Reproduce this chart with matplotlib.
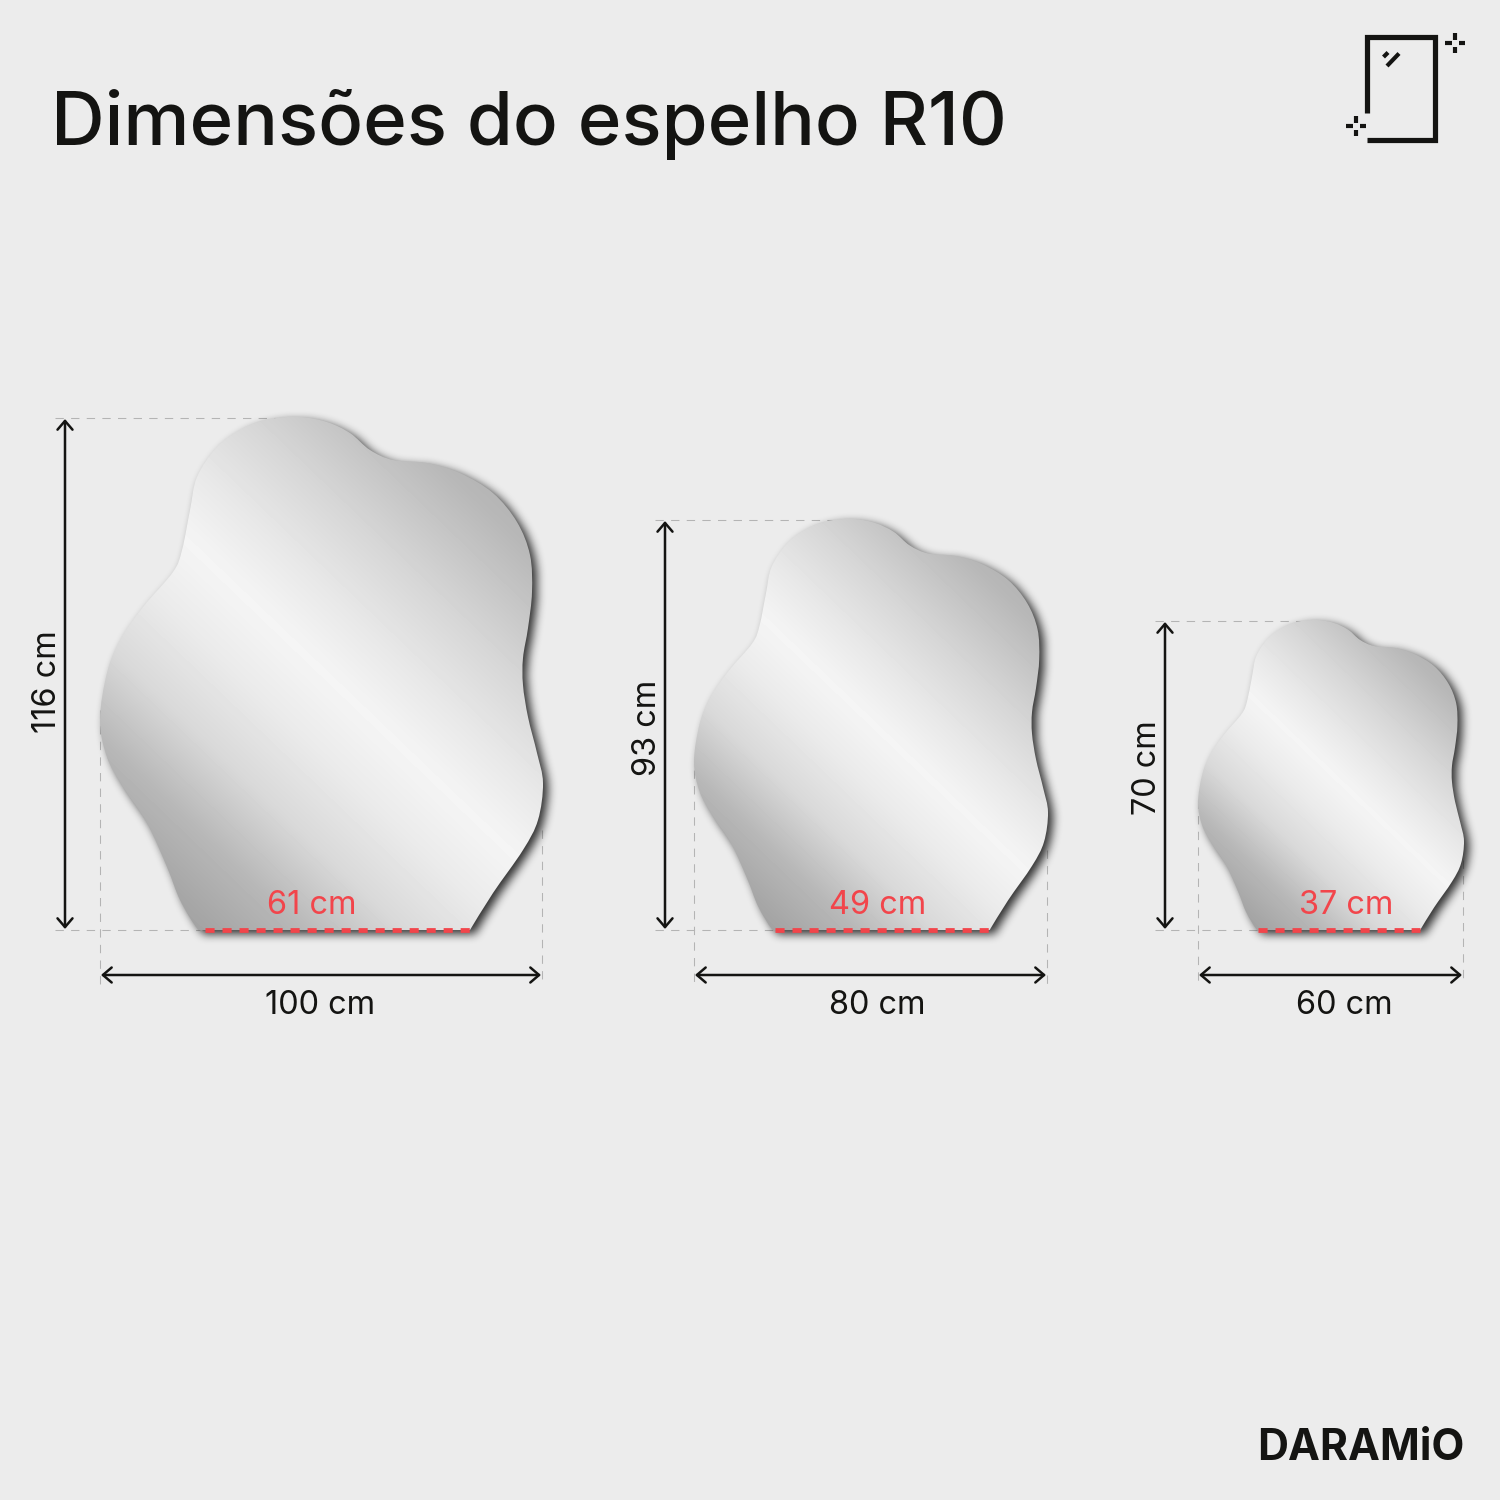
import numpy as np
import matplotlib
matplotlib.use("Agg")
import matplotlib.pyplot as plt
from matplotlib.path import Path
from matplotlib.patches import PathPatch

BG = "#ececec"
INK = "#141412"
RED = "#f2454b"
GUIDE = "#b4b4b4"

# outline of the big mirror, bottom-left going clockwise
OUTLINE_X = [205, 197, 180, 167, 147, 123, 107, 100, 107, 120, 143, 173, 182, 190, 197, 217, 243, 270, 300,
             327, 350, 370, 393, 427, 460, 493, 517, 530, 532, 528, 523, 523, 528, 537, 543, 538, 523, 493, 470]
OUTLINE_Y = [930, 928, 900, 867, 823, 787, 757, 720, 673, 640, 607, 572, 550, 510, 477, 447, 428, 419, 417,
             422, 433, 450, 460, 463, 473, 493, 522, 555, 592, 628, 658, 685, 717, 753, 783, 820, 850, 893, 930]

# one entry per mirror
WIDTH_LABELS = ["100 cm", "80 cm", "60 cm"]
HEIGHT_LABELS = ["116 cm", "93 cm", "70 cm"]
BASE_LABELS = ["61 cm", "49 cm", "37 cm"]
LEFT = [100, 694, 1198]
RIGHT = [543, 1048, 1464]
TOP = [417, 519, 620]
BOTTOM = [930, 930, 930]
BASE_L = [205, 775, 1258]
BASE_R = [470, 990, 1420]
ARROW_X = [65, 665, 1165]
BASE_TEXT_X = [312, 878, 1346]
WIDTH_TEXT_X = [320, 877, 1344]
HEIGHT_TEXT_Y = [682, 728, 768]
GUIDE_LEFT_Y = [710, 770, 800]
GUIDE_RIGHT_Y = [830, 850, 860]


def smooth_path(xs, ys):
    # catmull-rom through the points, flat base closes it
    p = np.column_stack([xs, ys]).astype(float)
    verts = [p[0]]
    codes = [Path.MOVETO]
    for i in range(len(p) - 1):
        a = p[max(i - 1, 0)]
        b = p[i]
        c = p[i + 1]
        d = p[min(i + 2, len(p) - 1)]
        verts += [b + (c - a) / 6, c - (d - b) / 6, c]
        codes += [Path.CURVE4] * 3
    verts.append(p[0])
    codes.append(Path.CLOSEPOLY)
    return Path(np.array(verts), codes)


def blur(a, r):
    k = np.ones(2 * r + 1) / (2 * r + 1)
    for _ in range(3):
        a = np.apply_along_axis(lambda v: np.convolve(v, k, mode="same"), 0, a)
        a = np.apply_along_axis(lambda v: np.convolve(v, k, mode="same"), 1, a)
    return a


def draw_mirror(ax, i):
    sx = (RIGHT[i] - LEFT[i]) / (max(OUTLINE_X) - min(OUTLINE_X))
    sy = (BOTTOM[i] - TOP[i]) / (max(OUTLINE_Y) - min(OUTLINE_Y))
    xs = LEFT[i] + (np.array(OUTLINE_X) - min(OUTLINE_X)) * sx
    ys = TOP[i] + (np.array(OUTLINE_Y) - min(OUTLINE_Y)) * sy
    path = smooth_path(xs, ys)

    # soft shadow, pushed down and right
    pad = 40
    x0, x1 = LEFT[i] - pad, RIGHT[i] + pad
    y0, y1 = TOP[i] - pad, BOTTOM[i] + pad
    gx, gy = np.meshgrid(np.arange(x0, x1), np.arange(y0, y1))
    pts = np.column_stack([gx.ravel() + 0.5 - 5, gy.ravel() + 0.5 - 4])
    mask = path.contains_points(pts).reshape(gx.shape).astype(float)
    soft = blur(mask, 4)
    shade = np.zeros(gx.shape + (4,))
    shade[..., 3] = soft * 0.8
    ax.imshow(shade, extent=[x0, x1, y1, y0], zorder=2, interpolation="bilinear", aspect="auto")

    # diagonal silver band
    ux, uy = 0.69, -0.72
    cx = LEFT[i] + 95 * sx
    cy = TOP[i] + 132 * sy
    d = ((gx - cx) * ux + (gy - cy) * uy) / sx
    tone = np.interp(d, [-300, -260, -200, -130, -60, 0, 60, 130, 230, 300],
                     [0.62, 0.65, 0.72, 0.85, 0.92, 0.96, 0.91, 0.84, 0.72, 0.68])
    im = ax.imshow(tone, extent=[x0, x1, y1, y0], cmap="gray", vmin=0, vmax=1,
                   zorder=3, interpolation="bilinear", aspect="auto")
    clip = PathPatch(path, transform=ax.transData, fc="none", ec="none")
    ax.add_patch(clip)
    im.set_clip_path(clip)

    # guides
    guide = dict(color=GUIDE, lw=0.5, dashes=(8, 7), zorder=1)
    apex = xs[np.argmin(ys)]
    ax.plot([ARROW_X[i] - 10, apex], [TOP[i] + 1, TOP[i] + 1], **guide)
    ax.plot([ARROW_X[i] - 10, BASE_L[i]], [BOTTOM[i], BOTTOM[i]], **guide)
    ax.plot([LEFT[i], LEFT[i]], [GUIDE_LEFT_Y[i], 985], **guide)
    ax.plot([RIGHT[i] - 1, RIGHT[i] - 1], [GUIDE_RIGHT_Y[i], 985], **guide)

    # base line
    ax.plot([BASE_L[i], BASE_R[i]], [BOTTOM[i], BOTTOM[i]], color=RED, lw=2.3,
            dashes=(1.9, 1.65), zorder=5, dash_capstyle="butt")

    # arrows
    arrow = dict(arrowstyle="<->,head_length=0.42,head_width=0.36", color=INK, lw=1.2,
                 shrinkA=0, shrinkB=0, mutation_scale=10)
    ax.annotate("", xy=(ARROW_X[i], TOP[i] + 2), xytext=(ARROW_X[i], BOTTOM[i] - 1),
                arrowprops=arrow, zorder=6)
    ax.annotate("", xy=(LEFT[i] + 1, 975), xytext=(RIGHT[i] - 2, 975),
                arrowprops=arrow, zorder=6)

    font = dict(family="Inter", fontweight="normal", fontsize=15.6)
    ax.text(BASE_TEXT_X[i], BOTTOM[i] - 25, BASE_LABELS[i], color=RED, ha="center", va="center",
            zorder=6, **font)
    ax.text(WIDTH_TEXT_X[i], 1005, WIDTH_LABELS[i], color=INK, ha="center", va="center",
            zorder=6, **font)
    ax.text(ARROW_X[i] - 17, HEIGHT_TEXT_Y[i], HEIGHT_LABELS[i], color=INK, ha="center",
            va="center", rotation=90, zorder=6, **font)


def draw_icon(ax):
    thick = dict(color=INK, lw=2.5, solid_capstyle="butt", solid_joinstyle="miter", zorder=6)
    thin = dict(color=INK, lw=2.0, solid_capstyle="butt", zorder=6)
    ax.plot([1367, 1367, 1434.5, 1434.5, 1367], [113, 36.5, 36.5, 140, 140], **thick)
    ax.plot([1383.5, 1388], [57, 52.5], **thin)
    ax.plot([1387, 1399], [66, 53.5], **thin)
    for cx, cy in [(1455, 43), (1356, 126)]:
        ax.plot([cx - 10, cx - 3.5], [cy, cy], **thin)
        ax.plot([cx + 3.5, cx + 10], [cy, cy], **thin)
        ax.plot([cx, cx], [cy - 10, cy - 3.5], **thin)
        ax.plot([cx, cx], [cy + 3.5, cy + 10], **thin)


def main():
    fig = plt.figure(figsize=(10, 10), dpi=150, facecolor=BG)
    ax = fig.add_axes([0, 0, 1, 1])
    ax.set_facecolor(BG)

    for i in range(3):
        draw_mirror(ax, i)
    draw_icon(ax)

    ax.text(51, 124, "Dimensões do espelho R10", family="Inter", fontweight="medium",
            fontsize=35.7, color=INK, ha="left", va="center", zorder=6)
    ax.text(1465, 1449, "DARAMiO", family="Inter", fontweight="bold", fontsize=20.5,
            color=INK, ha="right", va="center", zorder=6)

    ax.set_xlim(0, 1500)
    ax.set_ylim(1500, 0)
    ax.axis("off")
    fig.savefig("out.png", dpi=150, facecolor=BG)
    plt.close(fig)


if __name__ == "__main__":
    main()
